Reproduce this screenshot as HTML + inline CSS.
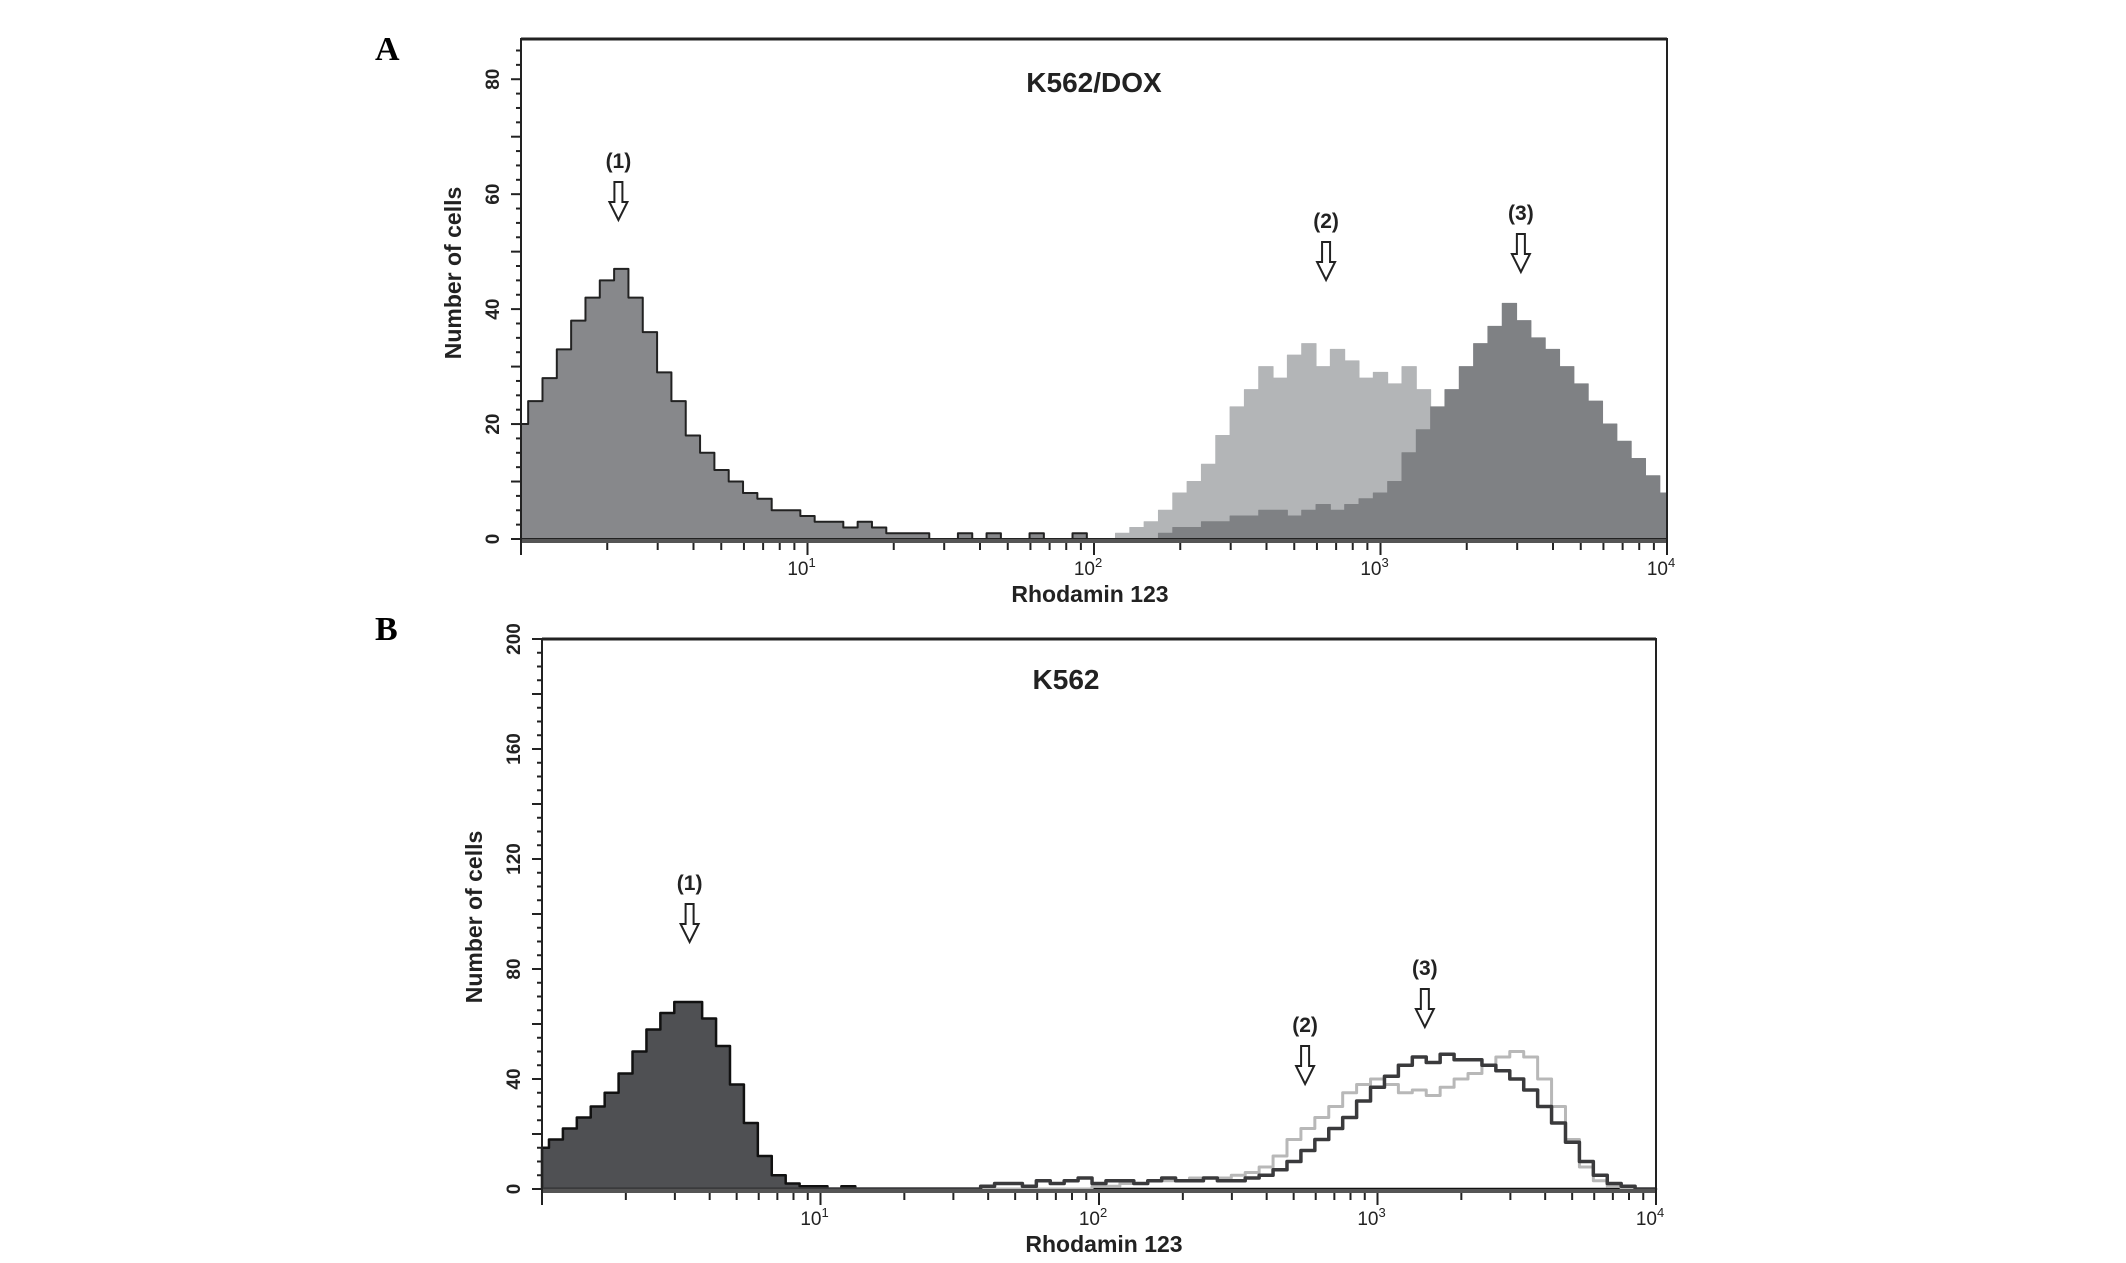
<!DOCTYPE html>
<html><head><meta charset="utf-8"><style>
html,body{margin:0;padding:0;background:#fff;}
svg{display:block;}
text{font-family:"Liberation Sans",sans-serif;}
</style></head><body>
<svg id="fig" width="2126" height="1263" viewBox="0 0 2126 1263" xmlns="http://www.w3.org/2000/svg">
<text x="375" y="60" font-weight="bold" font-size="34" style="font-family:'Liberation Serif',serif">A</text>
<text x="375" y="640" font-weight="bold" font-size="34" style="font-family:'Liberation Serif',serif">B</text>
</svg>
<script>
// bins: log10 positions 0..4 step 0.05 (81 bins)
const binStep = 0.05;
const aSeries1 = [20,24,28,33,38,42,45,47,42,36,29,24,18,15,12,10,8,7,5,5,4,3,3,2,3,2,1,1,1,0,0,1,0,1,0,0,1,0,0,1,0,0,0,0,0,0,0,0,0,0,0,0,0,0,0,0,0,0,0,0,0,0,0,0,0,0,0,0,0,0,0,0,0,0,0,0,0,0,0,0,0];
const aSeries2 = [0,0,0,0,0,0,0,0,0,0,0,0,0,0,0,0,0,0,0,0,0,0,0,0,0,0,0,0,0,0,0,0,0,0,0,0,0,0,0,0,0,0,1,2,3,5,8,10,13,18,23,26,30,28,32,34,30,33,31,28,29,27,30,26,20,12,4,0,0,0,0,0,0,0,0,0,0,0,0,0,0];
const aSeries3 = [0,0,0,0,0,0,0,0,0,0,0,0,0,0,0,0,0,0,0,0,0,0,0,0,0,0,0,0,0,0,0,0,0,0,0,0,0,0,0,0,0,0,0,0,0,1,2,2,3,3,4,4,5,5,4,5,6,5,6,7,8,10,15,19,23,26,30,34,37,41,38,35,33,30,27,24,20,17,14,11,8];
const bSeries1 = [15,18,22,26,30,35,42,50,58,64,68,68,62,52,38,24,12,5,2,1,1,0,1,0,0,0,0,0,0,0,0,0,0,0,0,0,0,0,0,0,0,0,0,0,0,0,0,0,0,0,0,0,0,0,0,0,0,0,0,0,0,0,0,0,0,0,0,0,0,0,0,0,0,0,0,0,0,0,0,0,0];
const bSeries2 = [0,0,0,0,0,0,0,0,0,0,0,0,0,0,0,0,0,0,0,0,0,0,0,0,0,0,0,0,0,0,0,0,0,0,0,0,0,0,0,0,1,1,2,2,3,3,3,4,4,4,5,6,8,12,18,22,26,30,35,38,40,38,35,36,34,37,40,42,45,48,50,48,40,30,18,8,3,1,0,0,0];
const bSeries3 = [0,0,0,0,0,0,0,0,0,0,0,0,0,0,0,0,0,0,0,0,0,0,0,0,0,0,0,0,0,0,0,0,1,2,2,1,3,2,3,4,2,3,3,2,3,4,3,3,4,3,3,4,5,7,10,14,18,22,26,32,37,41,45,48,46,49,47,47,45,43,40,36,30,24,17,10,5,2,1,0,0];
const aYTicks = [0,20,40,60,80];
const bYTicks = [0,40,80,120,160,200];
const xTickLabels = ["1","2","3","4"];

const NS = "http://www.w3.org/2000/svg";
const svg = document.getElementById('fig');
function mk(tag, attrs, parent){const e=document.createElementNS(NS,tag);for(const k in attrs)e.setAttribute(k,attrs[k]);(parent||svg).appendChild(e);return e;}

function panel(cfg){
  const g = mk('g',{});
  
  
  const xs = v => cfg.left + (v/4)*(cfg.right-cfg.left);
  const ys = v => cfg.base - v*(cfg.base-cfg.top)/cfg.ymax;
  function stepPath(arr, closed){
    let d = closed ? `M${xs(0)},${ys(0)}` : '';
    arr.forEach((v,i)=>{
      const x0 = xs(Math.max(0,i*binStep-binStep/2)), x1 = xs(Math.min(4,i*binStep+binStep/2));
      d += (d===''?'M':'L')+`${x0},${ys(v)}L${x1},${ys(v)}`;
    });
    if(closed) d += `L${xs(4)},${ys(0)}Z`;
    return d;
  }
  cfg.series.forEach(s=>{
    const p = mk('path',{d:stepPath(s.data, s.fill!=='none'), fill:s.fill, stroke:s.stroke, 'stroke-width':s.sw, 'stroke-linejoin':'round'}, g);
    
    
  });
  const bl = mk('line',{x1:cfg.left,x2:cfg.right,y1:cfg.base+2,y2:cfg.base+2,stroke:'#555','stroke-width':4},g);
  
  
  const fr = mk('path',{d:`M${cfg.left},${cfg.base+4}L${cfg.left},${cfg.top}L${cfg.right},${cfg.top}L${cfg.right},${cfg.base+4}`,fill:'none',stroke:'#222','stroke-width':2},g);
  
  
  mk('line',{x1:cfg.left,x2:cfg.right,y1:cfg.top,y2:cfg.top,stroke:'#222','stroke-width':3},g);
  for(let dcd=0; dcd<4; dcd++){
    for(let m=1;m<=10;m++){
      const x = xs(dcd+Math.log10(m));
      const len = m===1||m===10 ? 12 : 7;
      mk('line',{x1:x,x2:x,y1:cfg.base+4,y2:cfg.base+4+len,stroke:'#222','stroke-width':2},g);
    }
  }
  xTickLabels.forEach((lab,i)=>{
    const t = mk('text',{x:xs(i+1)-6,y:cfg.base+36,'font-size':19,'text-anchor':'middle',fill:'#222'},g);
    
    
    t.textContent='10';
    const sp = mk('tspan',{dy:-8,'font-size':13},t); sp.textContent=lab;
  });
  for(let i=0;i<=Math.floor(cfg.ymax/cfg.minorStep);i++){
    const y = ys(i*cfg.minorStep);
    mk('line',{x1:cfg.left-(i%4===0?10:5),x2:cfg.left,y1:y,y2:y,stroke:'#222','stroke-width':2},g);
  }
  cfg.yTicks.forEach(v=>{
    const y = ys(v), x = cfg.left-22;
    const t = mk('text',{x:x,y:y,'font-size':19,'font-weight':'bold','text-anchor':'middle',transform:`rotate(-90 ${x} ${y})`,fill:'#222'},g);
    
    
    t.textContent = String(v);
  });
  const ytx = cfg.left-60, yty = cfg.yTitleY;
  const yt = mk('text',{x:ytx,y:yty,'font-size':23,'font-weight':'bold','text-anchor':'middle',transform:`rotate(-90 ${ytx} ${yty})`,fill:'#222'},g);
  
  
  yt.textContent='Number of cells';
  const xt = mk('text',{x:cfg.xTitleX,y:cfg.base+63,'font-size':23,'font-weight':'bold','text-anchor':'middle',fill:'#222'},g);
  
  
  xt.textContent='Rhodamin 123';
  const tt = mk('text',{x:cfg.titleX,y:cfg.titleY,'font-size':28,'font-weight':'bold','text-anchor':'middle',fill:'#222'},g);
  
  
  tt.textContent=cfg.title;
  cfg.arrows.forEach(a=>{
    const x = xs(a.pos), y = a.y;
    const lab = mk('text',{x:x,y:y,'font-size':21,'font-weight':'bold','text-anchor':'middle',fill:'#222'},g);
    
    
    lab.textContent=a.label;
    const ar = mk('path',{d:`M${x-4},${y+14}L${x+4},${y+14}L${x+4},${y+34}L${x+9},${y+34}L${x},${y+52}L${x-9},${y+34}L${x-4},${y+34}Z`,fill:'#fff',stroke:'#222','stroke-width':2},g);
    
    
  });
}

panel({name:'panel-a-chart', left:521, right:1667, top:39, base:539, ymax:87, minorStep:2.5, yTicks:aYTicks, title:'K562/DOX', titleX:1094, titleY:92, xTitleX:1090, yTitleY:273,
  series:[
    {name:'series-2-light', data:aSeries2, fill:'#b3b5b7', stroke:'#b3b5b7', sw:1},
    {name:'series-3-dark', data:aSeries3, fill:'#7f8184', stroke:'#7f8184', sw:1},
    {name:'series-1-control', data:aSeries1, fill:'#87888b', stroke:'#222', sw:2}
  ],
  arrows:[{label:'(1)',pos:0.34,y:168},{label:'(2)',pos:2.81,y:228},{label:'(3)',pos:3.49,y:220}]
});
panel({name:'panel-b-chart', left:542, right:1656, top:639, base:1189, ymax:200, minorStep:5, yTicks:bYTicks, title:'K562', titleX:1066, titleY:689, xTitleX:1104, yTitleY:917,
  series:[
    {name:'series-1-control', data:bSeries1, fill:'#4f5053', stroke:'#111', sw:2.5},
    {name:'series-2-light', data:bSeries2, fill:'none', stroke:'#b8b8b8', sw:3},
    {name:'series-3-dark', data:bSeries3, fill:'none', stroke:'#3a3a3c', sw:3.5}
  ],
  arrows:[{label:'(1)',pos:0.53,y:890},{label:'(2)',pos:2.74,y:1032},{label:'(3)',pos:3.17,y:975}]
});
</script>
</body></html>
